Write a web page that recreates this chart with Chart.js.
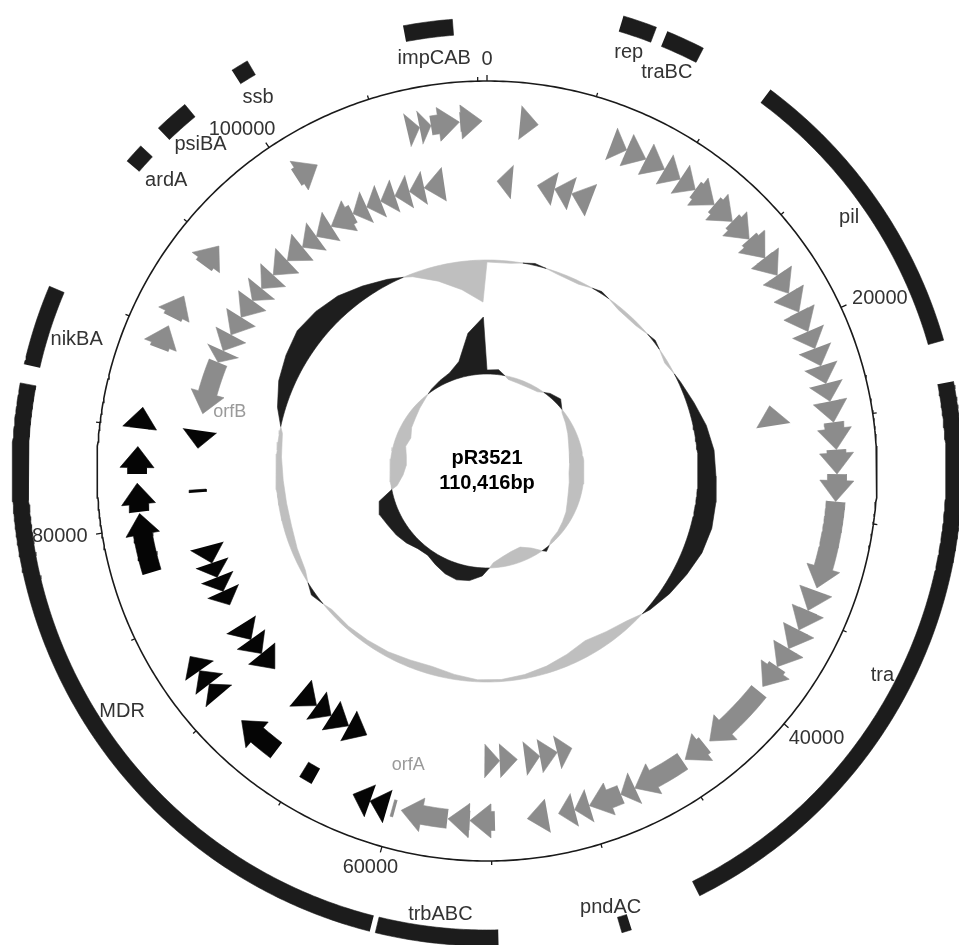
<!DOCTYPE html>
<html>
<head>
<meta charset="utf-8">
<title>pR3521</title>
<style>
  html, body { margin: 0; padding: 0; background: #ffffff; }
  #wrap { width: 959px; height: 945px; position: relative; }
</style>
<script src="https://cdn.jsdelivr.net/npm/chart.js@4.4.1/dist/chart.umd.min.js"></script>
</head>
<body>
<div id="wrap"><canvas id="map"></canvas></div>
<script>
// ---------------------------------------------------------------------------
// Plasmid pR3521 circular map data
// ---------------------------------------------------------------------------
const plasmidName = 'pR3521';
const plasmidLength = 110416;

// sliding windows (bp) for the two composition rings
const windowSize = 2000;
// GC content deviation per window (positive = above average)
const gcContent = [
  -2, -2, 2, -2, -3, 2, -3, -3, 2, -3,
  2, 7, 13, 17, 18, 20, 21, 19, 14, 9,
  3, -6, -11, -15, -11, -7, -4, -2, -2, -5,
  -8, -7, -5, -4, -3, -3, 4, -4, -6, -8,
  -8, -7, -5, -3, 8, 16, 21, 25, 23, 19,
  12, 5, -3, -15, -28, -42
];
// GC skew per window
const gcSkew = [
  4, 5, -3, -4, -4, -3, 3, 6, -2, -5,
  -8, -11, -13, -14, -15, -14, -13, -11, -8, -6,
  -4, -3, 3, -8, -14, -13, -10, -5, 8, 14,
  16, 14, 10, 6, 7, 11, 14, 16, 19, 15,
  -6, -13, -16, -15, -12, -14, -10, -8, -5, -2,
  2, 5, 8, 16, 42, 57
];

// ruler
const tickStep = 5000;
const tickLabelStep = 20000;

// genes: [start, end] in bp; a third value of 0 marks a feature drawn without a head
const fwdGrayGenes = [
  [1660, 2580], [6380, 7210], [7210, 8280], [8280, 9350], [9350, 10280], [10280, 11200],
  [11200, 12420], [12420, 13650], [13650, 14880], [14880, 16100], [16100, 17180], [17180, 18250],
  [18250, 19320], [19320, 20400], [20400, 21320], [21320, 22240], [22240, 23160], [23160, 24080],
  [24080, 25150], [25150, 26530], [26530, 27760], [27760, 29140], [29140, 33590],
  [33740, 34810], [34810, 35890], [35890, 36960], [36960, 38030], [38030, 39260],
  [39570, 43090], [43400, 44630], [44780, 47540], [47540, 48310], [48310, 49990],
  [49990, 50760], [50760, 51590], [52140, 53180], [54810, 56070], [56070, 57170], [57200, 59560],
  [59870, 60020, 0],
  [89100, 90330], [90790, 92010], [93850, 95080], [100290, 101520],
  [106370, 107010], [107010, 107590], [107590, 109030], [109060, 110170]
];
const fwdBlackGenes = [
  [60270, 61190], [61190, 62110], [64190, 64870, 0], [66560, 68860],
  [70540, 71310], [71310, 72140], [72140, 73000], [77660, 80670],
  [80760, 82200], [82660, 84040], [84960, 86030]
];
const revGrayGenes = [
  [610, 1530], [3070, 4140], [4140, 5210], [5210, 6440], [23620, 24840],
  [49990, 50910], [50910, 51990], [51990, 52910], [53370, 54440], [54440, 55360],
  [86310, 89560], [89560, 90330], [90330, 91400], [91400, 92630], [92630, 93850],
  [93850, 94770], [94770, 95850], [95850, 97070], [97070, 98300], [98300, 99370],
  [99370, 100450], [100450, 101980], [101980, 102900], [102900, 103820], [103820, 104740],
  [104740, 105660], [105660, 106580], [106580, 107810]
];
const revBlackGenes = [
  [62720, 63950], [63950, 65180], [65180, 66250], [66250, 67480],
  [69620, 70850], [70850, 71920], [71920, 73000],
  [74380, 75300], [75300, 76220], [76220, 77140], [77140, 78210],
  [81520, 81680, 0], [84190, 85270]
];

// gene clusters / regions
const regionNames = ['impCAB', 'rep', 'traBC', 'pil', 'tra', 'pndAC', 'trbABC', 'MDR', 'nikBA', 'ardA', 'psiBA', 'ssb'];
const regionStart = [107140, 5120, 6840, 11230, 24260, 49840, 54780, 59590, 86800, 95300, 96980, 100450];
const regionEnd   = [109070, 6410, 8310, 22700, 47050, 50210, 59380, 86090, 89830, 96060, 98300, 101120];

// ---------------------------------------------------------------------------
// Layout and style
// ---------------------------------------------------------------------------
const RADIUS = { backbone: 390, fwd: 350, rev: 290, gc: 211, skew: 97, region: 467 };
const regionRadius = { impCAB: 445, pndAC: 473 };
const regionBand = 16;
// label anchor: [bp, radius]
const regionLabelAt = {
  impCAB: [108180, 416], rep: [5735, 442], traBC: [7453, 437], pil: [16869, 442],
  tra: [35977, 445], pndAC: [50362, 454], trbABC: [57048, 446], MDR: [72570, 437],
  nikBA: [88271, 431], ardA: [95755, 433], psiBA: [97749, 434], ssb: [100755, 438]
};
const geneLabels = [['orfA', 59810, 304], ['orfB', 86770, 264]];
const ARROW = { body: 9.5, head: 17, headLen: 21 };
const COLORS = {
  gene: '#8c8c8c', mdr: '#050505', region: '#1c1c1c', backbone: '#1a1a1a',
  gcHigh: '#1e1e1e', gcLow: '#bfbfbf', text: '#333333', geneText: '#9a9a9a', title: '#000000'
};

// ---------------------------------------------------------------------------
// Geometry helpers (plot units = pixels, origin at the map centre)
// ---------------------------------------------------------------------------
const angleOf = bp => bp / plasmidLength * 2 * Math.PI;
const polar = (bp, r) => ({ x: r * Math.sin(angleOf(bp)), y: r * Math.cos(angleOf(bp)) });

function arc(b0, b1, r) {
  const spanPx = Math.abs(angleOf(b1 - b0)) * r;
  const n = Math.max(1, Math.ceil(spanPx / 4));
  const pts = [];
  for (let i = 0; i <= n; i++) pts.push(polar(b0 + (b1 - b0) * i / n, r));
  return pts;
}

function genePolygon(gene, strand, rc) {
  const [s, e, head] = gene;
  if (head === 0) {
    return [...arc(s, e, rc + ARROW.body - 1), ...arc(e, s, rc - ARROW.body + 1)];
  }
  const lenPx = angleOf(e - s) * rc;
  const hBp = Math.min(lenPx, ARROW.headLen) / lenPx * (e - s);
  const pts = [];
  if (strand > 0) {
    const neck = e - hBp;
    if (neck > s) pts.push(...arc(s, neck, rc + ARROW.body));
    pts.push(polar(neck, rc + ARROW.head), polar(e, rc), polar(neck, rc - ARROW.head));
    if (neck > s) pts.push(...arc(neck, s, rc - ARROW.body));
  } else {
    const neck = s + hBp;
    if (neck < e) pts.push(...arc(e, neck, rc + ARROW.body));
    pts.push(polar(neck, rc + ARROW.head), polar(s, rc), polar(neck, rc - ARROW.head));
    if (neck < e) pts.push(...arc(neck, e, rc - ARROW.body));
  }
  return pts;
}

// Split a composition track into runs of one sign; each run becomes a
// polygon from its curve back along the baseline circle.
function ringRuns(values, base, sign) {
  const samples = values.map((v, k) => [k * windowSize, v]);
  samples.push([plasmidLength, values[0]]);
  const path = [];
  samples.forEach(([p, v], i) => {
    if (i > 0) {
      const [p0, v0] = samples[i - 1];
      if (v0 * v < 0) path.push([p0 + (p - p0) * v0 / (v0 - v), 0]);
    }
    path.push([p, v]);
  });
  const runs = [];
  let cur = null;
  path.forEach(([p, v], i) => {
    if (v * sign > 0) {
      if (!cur) {
        cur = [];
        if (i > 0 && path[i - 1][1] === 0) cur.push(path[i - 1]);
      }
      cur.push([p, v]);
    } else if (cur) {
      if (v === 0) cur.push([p, v]);
      runs.push(cur);
      cur = null;
    }
  });
  if (cur) runs.push(cur);
  return runs.map(run => [
    ...run.map(([p, v]) => polar(p, base + v)),
    ...arc(run[run.length - 1][0], run[0][0], base)
  ]);
}

function shapeSet(points, color, edge) {
  return {
    data: points, showLine: true, fill: 'shape', tension: 0,
    backgroundColor: color, borderColor: edge || color, borderWidth: 0.6,
    pointRadius: 0, pointHoverRadius: 0
  };
}

// ---------------------------------------------------------------------------
// Datasets
// ---------------------------------------------------------------------------
const datasets = [];

fwdGrayGenes.forEach(g => datasets.push(shapeSet(genePolygon(g, 1, RADIUS.fwd), COLORS.gene)));
fwdBlackGenes.forEach(g => datasets.push(shapeSet(genePolygon(g, 1, RADIUS.fwd), COLORS.mdr)));
revGrayGenes.forEach(g => datasets.push(shapeSet(genePolygon(g, -1, RADIUS.rev), COLORS.gene)));
revBlackGenes.forEach(g => datasets.push(shapeSet(genePolygon(g, -1, RADIUS.rev), COLORS.mdr)));

regionNames.forEach((name, i) => {
  const r = regionRadius[name] || RADIUS.region;
  const pts = [...arc(regionStart[i], regionEnd[i], r + regionBand / 2), ...arc(regionEnd[i], regionStart[i], r - regionBand / 2)];
  datasets.push(shapeSet(pts, COLORS.region));
});

ringRuns(gcContent, RADIUS.gc, 1).forEach(p => datasets.push(shapeSet(p, COLORS.gcHigh)));
ringRuns(gcContent, RADIUS.gc, -1).forEach(p => datasets.push(shapeSet(p, COLORS.gcLow)));
ringRuns(gcSkew, RADIUS.skew, 1).forEach(p => datasets.push(shapeSet(p, COLORS.gcHigh)));
ringRuns(gcSkew, RADIUS.skew, -1).forEach(p => datasets.push(shapeSet(p, COLORS.gcLow)));

// backbone circle
datasets.push({
  data: arc(0, plasmidLength, RADIUS.backbone), showLine: true, fill: false,
  borderColor: COLORS.backbone, borderWidth: 1.6, pointRadius: 0, tension: 0
});

// ruler ticks (segments separated by gaps)
const tickPts = [];
for (let bp = 0; bp < plasmidLength; bp += tickStep) {
  const len = bp % tickLabelStep === 0 ? 6 : 4;
  tickPts.push(polar(bp, RADIUS.backbone), polar(bp, RADIUS.backbone + len), { x: null, y: null });
}
datasets.push({
  data: tickPts, showLine: true, spanGaps: false, fill: false,
  borderColor: COLORS.backbone, borderWidth: 1.3, pointRadius: 0, tension: 0
});

// ---------------------------------------------------------------------------
// Text layer: ruler labels, region names, gene names and the title
// ---------------------------------------------------------------------------
const textLayer = {
  id: 'mapText',
  afterDatasetsDraw(chart) {
    const { ctx, scales: { x, y } } = chart;
    const toPx = p => [x.getPixelForValue(p.x), y.getPixelForValue(p.y)];
    ctx.save();
    ctx.textAlign = 'center';
    ctx.textBaseline = 'middle';

    // ruler labels, pushed outward from the anchor point
    ctx.font = '20px "Liberation Sans", Arial, sans-serif';
    ctx.fillStyle = COLORS.text;
    for (let bp = 0; bp < plasmidLength; bp += tickLabelStep) {
      const label = String(bp);
      const [ax, ay] = toPx(polar(bp, RADIUS.backbone + 15));
      const a = angleOf(bp);
      const w = ctx.measureText(label).width;
      ctx.fillText(label, ax + w / 2 * Math.sin(a), ay - 7 * Math.cos(a));
    }

    // region names
    regionNames.forEach(name => {
      const [bp, r] = regionLabelAt[name];
      const [px, py] = toPx(polar(bp, r));
      ctx.fillText(name, px, py);
    });

    // gene names
    ctx.font = '18px "Liberation Sans", Arial, sans-serif';
    ctx.fillStyle = COLORS.geneText;
    geneLabels.forEach(([name, bp, r]) => {
      const [px, py] = toPx(polar(bp, r));
      ctx.fillText(name, px, py);
    });

    // title
    ctx.font = 'bold 20px "Liberation Sans", Arial, sans-serif';
    ctx.fillStyle = COLORS.title;
    const [cx, cy] = toPx({ x: 0, y: 0 });
    ctx.fillText(plasmidName, cx, cy - 13);
    ctx.fillText(plasmidLength.toLocaleString('en-US') + 'bp', cx, cy + 12);
    ctx.restore();
  }
};

new Chart(document.getElementById('map'), {
  type: 'scatter',
  data: { datasets },
  options: {
    responsive: true,
    maintainAspectRatio: false,
    animation: false,
    events: [],
    layout: { padding: 0 },
    plugins: { legend: { display: false }, tooltip: { enabled: false } },
    scales: {
      x: { type: 'linear', min: -487, max: 472, display: false },
      y: { type: 'linear', min: -474, max: 471, display: false }
    }
  },
  plugins: [textLayer]
});
</script>
</body>
</html>
